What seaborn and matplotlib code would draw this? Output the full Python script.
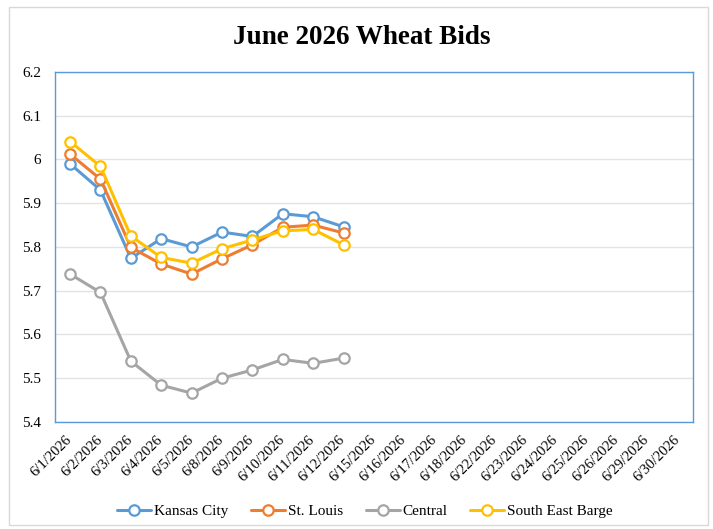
import matplotlib
matplotlib.use("Agg")
import matplotlib.pyplot as plt
import matplotlib.transforms as mtransforms
import seaborn as sns
import pandas as pd
from matplotlib.patches import Rectangle

dates = ["6/1/2026", "6/2/2026", "6/3/2026", "6/4/2026", "6/5/2026", "6/8/2026",
         "6/9/2026", "6/10/2026", "6/11/2026", "6/12/2026", "6/15/2026", "6/16/2026",
         "6/17/2026", "6/18/2026", "6/22/2026", "6/23/2026", "6/24/2026", "6/25/2026",
         "6/26/2026", "6/29/2026", "6/30/2026"]
kansas_city = [5.99, 5.93, 5.774, 5.819, 5.80, 5.834, 5.824, 5.876, 5.869, 5.846]
st_louis = [6.012, 5.955, 5.799, 5.761, 5.738, 5.773, 5.805, 5.845, 5.850, 5.832]
central = [5.738, 5.696, 5.539, 5.484, 5.466, 5.500, 5.519, 5.543, 5.534, 5.546]
se_barge = [6.041, 5.984, 5.825, 5.776, 5.763, 5.796, 5.816, 5.837, 5.840, 5.805]
series_names = ["Kansas City", "St. Louis", "Central", "South East Barge"]
colors = ["#5B9BD5", "#ED7D31", "#A5A5A5", "#FFC000"]

rows = []
for name, vals in zip(series_names, [kansas_city, st_louis, central, se_barge]):
    for d, v in zip(dates, vals):
        rows.append({"Date": d, "Bid": v, "Series": name})
df = pd.DataFrame(rows)

sns.set_theme(style="white")
plt.rcParams["font.family"] = ["Liberation Serif", "DejaVu Serif"]
plt.rcParams["text.color"] = "black"

fig = plt.figure(figsize=(7.13, 5.29), dpi=100)
ax = fig.add_axes([0.077, 0.2023, 0.895, 0.6617])

for name, col in zip(series_names, colors):
    sub = df[df["Series"] == name]
    sns.pointplot(data=sub, x="Date", y="Bid", order=dates, color=col, ax=ax,
                  markers="o", linewidth=2.2, markersize=7.5,
                  markerfacecolor="white", markeredgecolor=col,
                  markeredgewidth=1.6, label=name, errorbar=None)

ax.set_ylim(5.4, 6.2)
ax.set_yticks([5.4, 5.5, 5.6, 5.7, 5.8, 5.9, 6.0, 6.1, 6.2])
ax.set_yticklabels(["5.4", "5.5", "5.6", "5.7", "5.8", "5.9", "6", "6.1", "6.2"])
ax.set_xlim(-0.5, len(dates) - 0.5)
ax.set_xticks(range(len(dates)))
ax.set_xticklabels(dates, rotation=45, ha="right", rotation_mode="anchor")
ax.tick_params(axis="both", labelsize=10.5, colors="black", length=0)
ax.tick_params(axis="y", labelsize=11, pad=10)
ax.tick_params(axis="x", pad=8)
offset = mtransforms.ScaledTranslation(-5 / 100, 0, fig.dpi_scale_trans)
for lbl in ax.get_xticklabels():
    lbl.set_transform(lbl.get_transform() + offset)
ax.set_xlabel("")
ax.set_ylabel("")
ax.grid(axis="y", color="#E3E3E3", linewidth=1)
ax.set_axisbelow(True)
for sp in ax.spines.values():
    sp.set_color("#5B9BD5")
    sp.set_linewidth(1)

fig.suptitle("June 2026 Wheat Bids", x=0.508, y=0.952, fontsize=19.5,
             fontweight="bold", family=["Liberation Serif"], color="black")

handles, labels = ax.get_legend_handles_labels()
leg = fig.legend(handles[:4], labels[:4], loc="center", bbox_to_anchor=(0.512, 0.034),
                 ncol=4, frameon=False, fontsize=11, handlelength=2.2,
                 columnspacing=1.5, handletextpad=0.2)
for t in leg.get_texts():
    t.set_color("black")
if ax.get_legend() is not None:
    ax.get_legend().remove()

fig.patches.append(Rectangle((0.013, 0.008), 0.98, 0.978, transform=fig.transFigure,
                             fill=False, edgecolor="#D9D9D9", linewidth=1))

fig.savefig("out.png", dpi=100)
